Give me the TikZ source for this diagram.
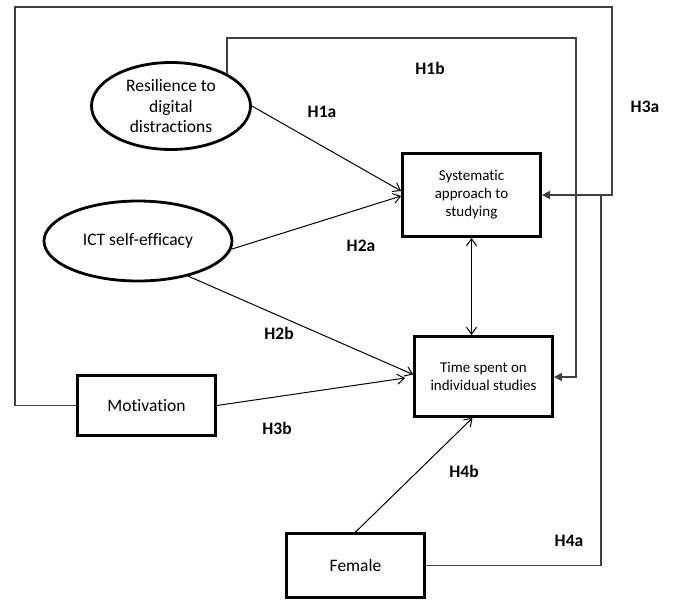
\documentclass[tikz,border=0pt]{standalone}
\usepackage{fontspec}
\setmainfont[Ligatures=NoCommon]{Carlito}
\usetikzlibrary{arrows.meta,shapes.geometric}
\begin{document}
\begin{tikzpicture}[x=1pt,y=-1pt,
  box/.style={draw, line width=2.8pt, inner sep=0pt, align=center, font=\fontsize{17.5}{20.5}\selectfont},
  smalltext/.style={font=\fontsize{15}{18}\selectfont},
  ell/.style={draw, ellipse, line width=2.8pt, inner sep=0pt, align=center, font=\fontsize{17.5}{20.5}\selectfont},
  lab/.style={font=\fontsize{17.5}{20}\selectfont\bfseries},
  conn/.style={line width=1pt, -{Straight Barb[length=7pt,width=10pt,line width=1pt]}},
  dconn/.style={line width=1pt, {Straight Barb[length=7pt,width=10pt,line width=1pt]}-{Straight Barb[length=7pt,width=10pt,line width=1pt]}},
  frame/.style={line width=1.3pt, draw=black!75},
  ftip/.style={-{Triangle[length=8pt,width=8pt]}}
]
\useasboundingbox (0,0) rectangle (675,600);

\node[ell, minimum width=159pt, minimum height=87pt] (res) at (171,106) {Resilience to\\digital\\distractions};
\node[ell, minimum width=188pt, minimum height=80pt] (ict) at (138,241) {ICT self-efficacy};
\node[box, smalltext, minimum width=138pt, minimum height=83pt] (sys) at (471.5,195) {Systematic\\approach to\\studying};
\node[box, smalltext, minimum width=138pt, minimum height=80pt] (time) at (483.5,376.5) {Time spent on\\individual studies};
\node[box, minimum width=138pt, minimum height=60pt] (mot) at (146.5,405.5) {Motivation};
\node[box, minimum width=138pt, minimum height=64pt] (fem) at (355.5,565.5) {Female};

\node[lab] (l1b) at (430,68) {H1b};
\node[lab] (l3a) at (645,107) {H3a};
\node[lab] (l1a) at (322,112) {H1a};
\node[lab] (l2a) at (361,246) {H2a};
\node[lab] (l2b) at (279,333) {H2b};
\node[lab] (l3b) at (277,428) {H3b};
\node[lab] (l4b) at (464,471) {H4b};
\node[lab] (l4a) at (569,541) {H4a};

\coordinate (h3tl) at (15,7);
\coordinate (h3tr) at (612,7);
\coordinate (h1tr) at (576,38);
\coordinate (h4c) at (601,195);

\draw[frame, ftip] (mot.west) -| (h3tl) -- (h3tr) |- (sys.east);
\draw[frame, ftip] (res.30) |- (h1tr) |- ([yshift=-0.5pt]time.east);
\draw[frame] (fem.east) -| (h4c);

\draw[conn] (res.east) -- ([yshift=4pt]sys.west);
\draw[conn] (ict.-5) -- ([yshift=-1pt]sys.west);
\draw[conn] (ict.-35) -- ([yshift=2pt]time.west);
\draw[conn] (mot.east) -- ([xshift=-8pt,yshift=-1.5pt]time.west);
\draw[dconn] (sys.south) -- (sys.south |- time.north);
\draw[conn] (fem.north) -- ([xshift=-11pt]time.south);
\end{tikzpicture}
\end{document}
